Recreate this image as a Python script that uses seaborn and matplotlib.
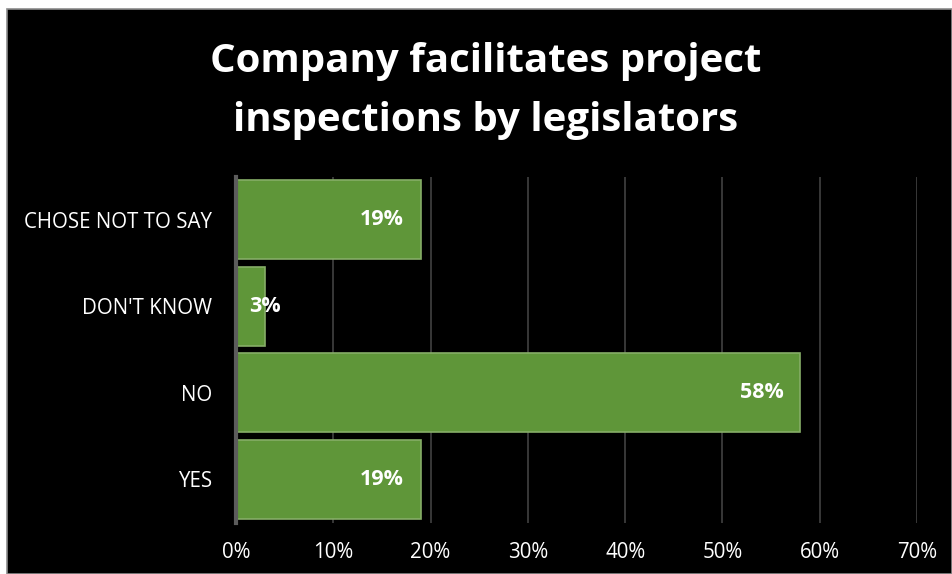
import matplotlib
matplotlib.use("Agg")
import matplotlib.pyplot as plt
import seaborn as sns
import pandas as pd
from matplotlib.patches import Rectangle

# Survey responses
categories = ["CHOSE NOT TO SAY", "DON'T KNOW", "NO", "YES"]
shares = [0.19, 0.03, 0.58, 0.19]
tick_values = [0, 0.1, 0.2, 0.3, 0.4, 0.5, 0.6, 0.7]
tick_labels = ["0%", "10%", "20%", "30%", "40%", "50%", "60%", "70%"]
title = "Company facilitates project\ninspections by legislators"

df = pd.DataFrame({"response": categories, "share": shares})

sns.set_theme(style="dark")
plt.rcParams["font.family"] = ["Open Sans", "DejaVu Sans"]

W, H = 952, 574
fig = plt.figure(figsize=(W / 100, H / 100), dpi=100, facecolor="white")

# black panel with a thin grey frame on the top and left
fig.patches.append(Rectangle((7 / W, 0), 1 - 7 / W, 1 - 9 / H, transform=fig.transFigure,
                             facecolor="black", edgecolor="#8c8c8c", linewidth=1.2, zorder=-10))

ax = fig.add_axes([236 / W, 1 - 522.5 / H, (917 - 236) / W, (522.5 - 176.5) / H])
ax.set_facecolor("black")

sns.barplot(data=df, x="share", y="response", order=categories, color="#5f9639",
            width=0.91, edgecolor="#86ad67", linewidth=1.2, saturation=1, ax=ax, zorder=3)

ax.set_xlim(0, 0.7)
ax.set_xticks(tick_values)
ax.set_xticklabels(tick_labels)
ax.set_xlabel("")
ax.set_ylabel("")
ax.grid(axis="x", color="#383838", linewidth=1.4, zorder=0)
ax.grid(axis="y", visible=False)
for side in ["top", "right", "bottom"]:
    ax.spines[side].set_visible(False)
ax.spines["left"].set_color("#5c5c5c")
ax.spines["left"].set_linewidth(3)
ax.spines["left"].set_zorder(4)
ax.tick_params(axis="x", colors="white", labelsize=14.8, pad=14, length=0)
ax.tick_params(axis="y", colors="white", labelsize=14.8, pad=17, length=0)

px = 1 / (917 - 236) * 0.7  # data units per pixel
for i, v in enumerate(shares):
    label = f"{round(v * 100)}%"
    if v / px > 60:
        ax.text(v - 17 * px, i, label, ha="right", va="center", color="white",
                fontsize=15.5, fontweight="bold", zorder=5)
    else:
        ax.text(13 * px, i, label, ha="left", va="center", color="white",
                fontsize=15.5, fontweight="bold", zorder=5)

fig.text(486 / W, 1 - 91 / H, title, ha="center", va="center", color="white",
         fontsize=29, fontweight="bold", linespacing=1.68)

fig.savefig("out.png", dpi=100, facecolor="white")
